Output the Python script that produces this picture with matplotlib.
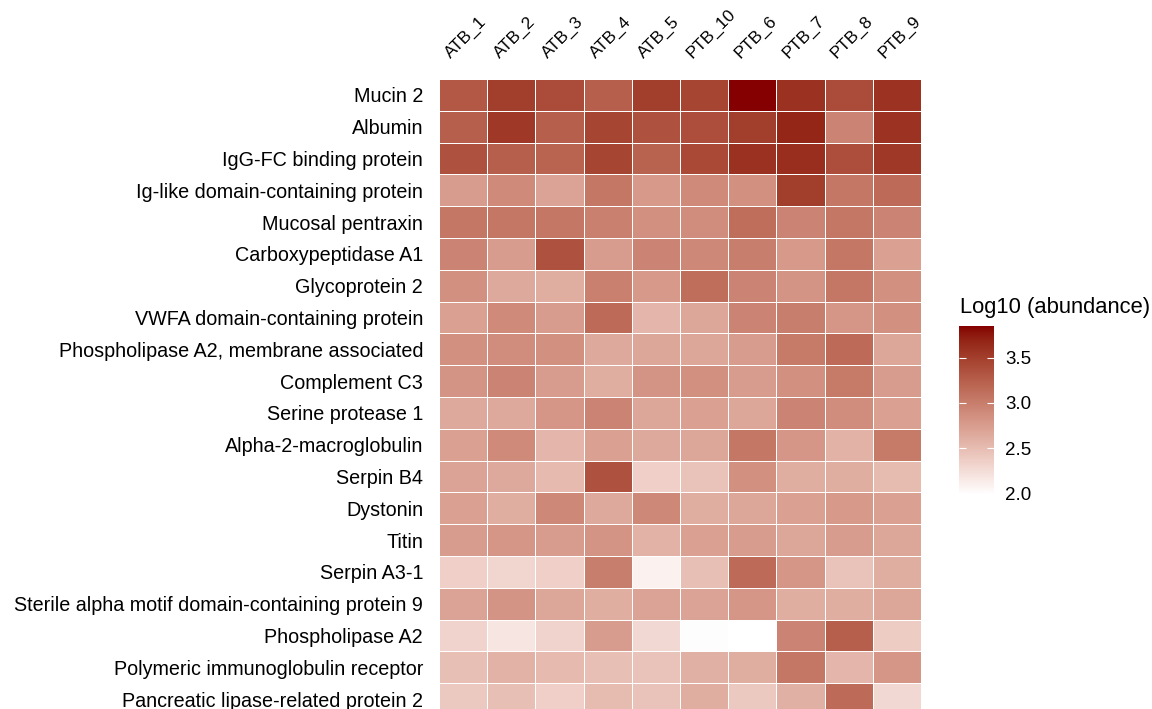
import numpy as np
import matplotlib
matplotlib.use("Agg")
import matplotlib.pyplot as plt
import matplotlib.transforms as mtransforms
from matplotlib.colors import ListedColormap, to_rgb

plt.rcParams["font.family"] = ["Liberation Sans", "DejaVu Sans"]

samples = ["ATB_1", "ATB_2", "ATB_3", "ATB_4", "ATB_5",
           "PTB_10", "PTB_6", "PTB_7", "PTB_8", "PTB_9"]

proteins = [
    "Mucin 2",
    "Albumin",
    "IgG-FC binding protein",
    "Ig-like domain-containing protein",
    "Mucosal pentraxin",
    "Carboxypeptidase A1",
    "Glycoprotein 2",
    "VWFA domain-containing protein",
    "Phospholipase A2, membrane associated",
    "Complement C3",
    "Serine protease 1",
    "Alpha-2-macroglobulin",
    "Serpin B4",
    "Dystonin",
    "Titin",
    "Serpin A3-1",
    "Sterile alpha motif domain-containing protein 9",
    "Phospholipase A2",
    "Polymeric immunoglobulin receptor",
    "Pancreatic lipase-related protein 2",
]

# log10 abundance, one row per protein, columns in the order of `samples`
log_abundance = [
    [3.30, 3.50, 3.40, 3.25, 3.50, 3.45, 3.85, 3.60, 3.40, 3.58],
    [3.25, 3.55, 3.25, 3.45, 3.35, 3.38, 3.50, 3.68, 2.95, 3.58],
    [3.35, 3.25, 3.20, 3.45, 3.22, 3.42, 3.60, 3.62, 3.38, 3.55],
    [2.75, 2.90, 2.70, 3.05, 2.78, 2.90, 2.85, 3.50, 3.05, 3.15],
    [3.05, 3.05, 3.05, 2.98, 2.85, 2.88, 3.12, 2.95, 3.05, 2.95],
    [2.95, 2.75, 3.35, 2.75, 2.95, 2.92, 3.00, 2.78, 3.05, 2.72],
    [2.85, 2.65, 2.62, 2.98, 2.78, 3.12, 2.95, 2.82, 3.05, 2.85],
    [2.72, 2.90, 2.75, 3.15, 2.55, 2.68, 2.95, 3.00, 2.80, 2.85],
    [2.85, 2.88, 2.85, 2.65, 2.68, 2.68, 2.75, 3.02, 3.15, 2.68],
    [2.82, 2.95, 2.75, 2.62, 2.82, 2.85, 2.75, 2.85, 3.02, 2.75],
    [2.65, 2.65, 2.80, 2.95, 2.68, 2.72, 2.68, 2.95, 2.88, 2.72],
    [2.72, 2.90, 2.55, 2.72, 2.65, 2.68, 3.05, 2.80, 2.58, 3.02],
    [2.70, 2.65, 2.52, 3.35, 2.35, 2.45, 2.85, 2.62, 2.62, 2.50],
    [2.72, 2.62, 2.92, 2.65, 2.92, 2.62, 2.68, 2.72, 2.78, 2.72],
    [2.75, 2.80, 2.75, 2.82, 2.58, 2.72, 2.75, 2.68, 2.75, 2.68],
    [2.35, 2.30, 2.35, 3.00, 2.08, 2.48, 3.15, 2.80, 2.45, 2.62],
    [2.70, 2.82, 2.68, 2.62, 2.70, 2.70, 2.80, 2.62, 2.62, 2.68],
    [2.32, 2.18, 2.32, 2.75, 2.28, 2.00, 1.98, 2.95, 3.25, 2.38],
    [2.48, 2.58, 2.52, 2.48, 2.45, 2.60, 2.62, 3.05, 2.55, 2.80],
    [2.40, 2.48, 2.35, 2.50, 2.45, 2.62, 2.40, 2.60, 3.15, 2.28],
]

vmin, vmax = 1.98, 3.85
cbar_ticks = [2.0, 2.5, 3.0, 3.5]


# white -> dark red, interpolated in CIELAB like ggplot's gradient
M = np.array([[0.4124, 0.3576, 0.1805],
              [0.2126, 0.7152, 0.0722],
              [0.0193, 0.1192, 0.9505]])
WHITE = np.array([0.95047, 1.0, 1.08883])


def to_lab(rgb):
    c = np.asarray(rgb, dtype=float)
    lin = np.where(c <= 0.04045, c / 12.92, ((c + 0.055) / 1.055) ** 2.4)
    r = (M @ lin) / WHITE
    f = np.where(r > 0.008856, np.cbrt(r), 7.787 * r + 16 / 116)
    return np.array([116 * f[1] - 16, 500 * (f[0] - f[1]), 200 * (f[1] - f[2])])


def from_lab(lab):
    L, a, b = lab
    fy = (L + 16) / 116
    f = np.array([fy + a / 500, fy, fy - b / 200])
    r = np.where(f > 0.206897, f ** 3, (f - 16 / 116) / 7.787)
    lin = np.linalg.solve(M, r * WHITE)
    lin = np.clip(lin, 0, 1)
    c = np.where(lin <= 0.0031308, 12.92 * lin, 1.055 * lin ** (1 / 2.4) - 0.055)
    return np.clip(c, 0, 1)


lo, hi = to_lab(to_rgb("white")), to_lab(to_rgb("#850000"))
cmap = ListedColormap([from_lab(lo + t * (hi - lo)) for t in np.linspace(0, 1, 256)])

W, H = 1152, 709
fig = plt.figure(figsize=(W / 100, H / 100), dpi=100)

# grid runs a little past the bottom edge, as in the reference
top_px, bot_px = 79, 715
ax = fig.add_axes([439 / W, 1 - bot_px / H, 482 / W, (bot_px - top_px) / H])
data = np.array(log_abundance)
mesh = ax.pcolormesh(data, cmap=cmap, vmin=vmin, vmax=vmax,
                     edgecolors="white", linewidth=0.6)
ax.set_xlim(0, len(samples))
ax.set_ylim(len(proteins), 0)
for s in ax.spines.values():
    s.set_visible(False)

ax.set_yticks(np.arange(len(proteins)) + 0.5)
ax.set_yticklabels(proteins, fontsize=14.2)
ax.tick_params(axis="y", length=0, pad=11.5)

ax.xaxis.tick_top()
ax.set_xticks(np.arange(len(samples)) + 0.5)
ax.set_xticklabels(samples, fontsize=12.4, rotation=45, ha="left",
                   va="baseline", rotation_mode="anchor")
ax.tick_params(axis="x", length=0, pad=14.4)
shift = mtransforms.ScaledTranslation(-0.12, 0, fig.dpi_scale_trans)
for lab in ax.get_xticklabels():
    lab.set_transform(lab.get_transform() + shift)

# colour bar
cax = fig.add_axes([959 / W, 1 - 495 / H, 35 / W, 169 / H])
cb = fig.colorbar(mesh, cax=cax, ticks=cbar_ticks)
cb.outline.set_visible(False)
cb.ax.set_yticklabels([f"{t:.1f}" for t in cbar_ticks], fontsize=13.5)
cb.ax.yaxis.set_ticks_position("both")
cb.ax.tick_params(direction="in", length=5, width=0.8, color="white",
                  labelright=True, labelleft=False, pad=8)
fig.text(960 / W, 1 - 307 / H, "Log10 (abundance)", fontsize=15.8,
         ha="left", va="center")

fig.savefig("out.png", dpi=100)
